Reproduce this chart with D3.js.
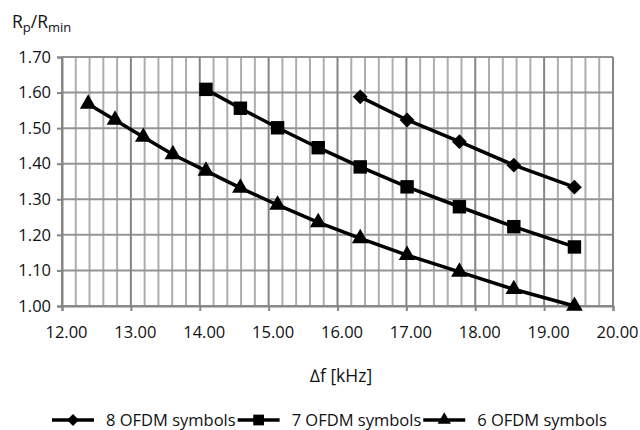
<!DOCTYPE html>
<html>
<head>
<meta charset="utf-8">
<script src="https://cdn.jsdelivr.net/npm/d3@7"></script>
<style>
  body { margin: 0; background: #fff; }
  svg text { font-family: "Open Sans", "DejaVu Sans", sans-serif; fill: #111; }
</style>
</head>
<body>
<div class="viz"></div>
<script>
'use strict';

// values
var xTicks = [12, 13, 14, 15, 16, 17, 18, 19, 20];
var yTicks = [1.00, 1.10, 1.20, 1.30, 1.40, 1.50, 1.60, 1.70];

var seriesNames = ["8 OFDM symbols", "7 OFDM symbols", "6 OFDM symbols"];

var df8 = [16.33, 17.01, 17.77, 18.56, 19.44];
var r8  = [1.588, 1.523, 1.462, 1.396, 1.334];

var df7 = [14.09, 14.59, 15.13, 15.72, 16.33, 17.01, 17.77, 18.56, 19.44];
var r7  = [1.609, 1.556, 1.501, 1.445, 1.391, 1.335, 1.279, 1.223, 1.166];

var df6 = [12.38, 12.77, 13.18, 13.61, 14.09, 14.59, 15.13, 15.72, 16.33, 17.01, 17.77, 18.56, 19.44];
var r6  = [1.568, 1.523, 1.475, 1.426, 1.380, 1.332, 1.284, 1.235, 1.190, 1.143, 1.096, 1.047, 1.000];

var width = 640,
    height = 430,
    margin = {top: 57, right: 27, bottom: 124, left: 62};

var w = width - margin.left - margin.right,
    h = height - margin.top - margin.bottom;

var svg = d3.select(".viz")
  .append("svg")
  .attr("width", width)
  .attr("height", height);

svg.append("rect").attr("width", width).attr("height", height).attr("fill", "#fff");

var g = svg.append("g")
  .attr("transform", "translate(" + margin.left + "," + margin.top + ")");

var x = d3.scaleLinear().domain([12, 20]).range([0, w]);
var y = d3.scaleLinear().domain([1.0, 1.7]).range([h, 0]);
var fmt = d3.format(".2f");

//grid: minor verticals every 0.2, majors on whole kHz
var minor = d3.range(0, 41).map(function (i) { return 12 + i * 0.2; })
  .filter(function (d, i) { return i % 5 !== 0; });

g.append("g").attr("class", "minor-grid").selectAll("line")
  .data(minor)
  .enter()
  .append("line")
  .attr("x1", function (d) { return x(d); })
  .attr("x2", function (d) { return x(d); })
  .attr("y1", 0)
  .attr("y2", h)
  .attr("stroke", "#adadad")
  .attr("stroke-width", 2);

g.append("g").attr("class", "h-grid").selectAll("line")
  .data(yTicks)
  .enter()
  .append("line")
  .attr("x1", 0)
  .attr("x2", w)
  .attr("y1", function (d) { return y(d); })
  .attr("y2", function (d) { return y(d); })
  .attr("stroke", "#949494")
  .attr("stroke-width", 2);

g.append("g").attr("class", "major-grid").selectAll("line")
  .data(xTicks)
  .enter()
  .append("line")
  .attr("x1", function (d) { return x(d); })
  .attr("x2", function (d) { return x(d); })
  .attr("y1", 0)
  .attr("y2", h)
  .attr("stroke", "#858585")
  .attr("stroke-width", 2);

//axes
var yAxis = g.append("g")
  .call(d3.axisLeft(y).tickValues(yTicks).tickFormat(fmt).tickSize(5).tickPadding(6));

var xAxis = g.append("g")
  .attr("transform", "translate(0," + h + ")")
  .call(d3.axisBottom(x).tickValues(xTicks).tickFormat(fmt).tickSize(5).tickPadding(15));

[yAxis, xAxis].forEach(function (a) {
  a.select(".domain").attr("stroke", "#858585").attr("stroke-width", 2);
  a.selectAll(".tick line").attr("stroke", "#858585").attr("stroke-width", 2);
  a.selectAll("text").attr("font-size", 16.5).attr("fill", "#111")
    .style("font-family", '"Open Sans", sans-serif');
});
xAxis.selectAll("text").attr("dx", 4);

//series
var series = [
  {name: seriesNames[0], xs: df8, ys: r8, type: "diamond"},
  {name: seriesNames[1], xs: df7, ys: r7, type: "square"},
  {name: seriesNames[2], xs: df6, ys: r6, type: "triangle"}
];

function markerPath(type, scale) {
  if (type === "diamond") return d3.symbol().type(d3.symbolSquare).size(110 * scale * scale)();
  if (type === "square") return d3.symbol().type(d3.symbolSquare).size(180 * scale * scale)();
  return d3.symbol().type(d3.symbolTriangle).size(120 * scale * scale)();
}

var line = d3.line()
  .x(function (d) { return x(d[0]); })
  .y(function (d) { return y(d[1]); });

series.forEach(function (s) {
  var pts = s.xs.map(function (v, i) { return [v, s.ys[i]]; });

  g.append("path")
    .datum(pts)
    .attr("d", line)
    .attr("fill", "none")
    .attr("stroke", "#000")
    .attr("stroke-width", 3.5)
    .attr("stroke-linejoin", "round");

  g.append("g").selectAll("path")
    .data(pts)
    .enter()
    .append("path")
    .attr("d", markerPath(s.type, 1))
    .attr("transform", function (d) {
      return "translate(" + x(d[0]) + "," + y(d[1]) + ")" + (s.type === "diamond" ? " rotate(45)" : "");
    })
    .attr("fill", "#000");
});

//y title R_p/R_min
var yt = svg.append("text").attr("x", 12).attr("y", 28).attr("font-size", 17.5);
yt.append("tspan").text("R");
yt.append("tspan").attr("font-size", 13).attr("dy", 3.5).text("p");
yt.append("tspan").attr("dy", -3.5).text("/R");
yt.append("tspan").attr("font-size", 13).attr("dy", 3.5).text("min");

//x title
svg.append("text")
  .attr("x", 341)
  .attr("y", 382)
  .attr("text-anchor", "middle")
  .attr("font-size", 17.5)
  .text("\u2206f [kHz]");

//legend
var lx = 52, ly = 420;
series.forEach(function (s) {
  var lg = svg.append("g");
  lg.append("line")
    .attr("x1", lx).attr("x2", lx + 42)
    .attr("y1", ly).attr("y2", ly)
    .attr("stroke", "#000").attr("stroke-width", 3.5);
  lg.append("path")
    .attr("d", markerPath(s.type, 0.8))
    .attr("transform", "translate(" + (lx + 21) + "," + ly + ")" + (s.type === "diamond" ? " rotate(45)" : ""))
    .attr("fill", "#000");
  var t = lg.append("text")
    .attr("x", lx + 54)
    .attr("y", ly + 6)
    .attr("font-size", 16.5)
    .text(s.name);
  lx = lx + 54 + t.node().getComputedTextLength() + 2;
});
</script>
</body>
</html>
